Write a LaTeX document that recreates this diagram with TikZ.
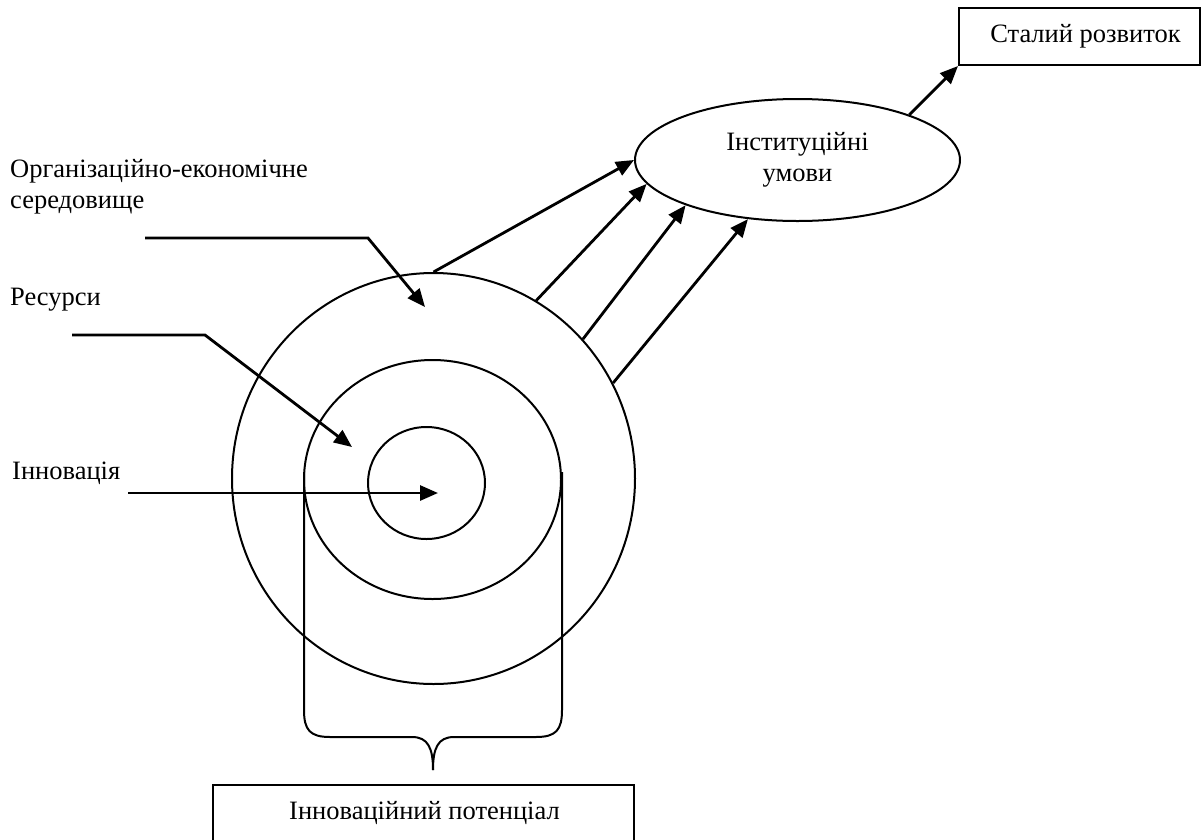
\documentclass[tikz,border=0pt]{standalone}
\usepackage{fontspec}
\setmainfont{Liberation Serif}
\usetikzlibrary{shapes.geometric,arrows.meta}
\begin{document}
\begin{tikzpicture}[x=1pt,y=-1pt,
  every node/.style={font=\fontsize{26.5}{31}\selectfont},
  shp/.style={draw, line width=2pt, inner sep=0pt},
  ring/.style={shp, ellipse},
  arr/.style={line width=2.8pt, -{Triangle[length=18pt,width=15pt]}},
  brace/.style={line width=2pt},
  lbl/.style={anchor=west, align=left, inner sep=0pt}]
\useasboundingbox (0,0) rectangle (1203,839);
\clip (0,0) rectangle (1203,839);
% rings
\node[ring, minimum width=403, minimum height=411] (outer) at (433.5,478.5) {};
\node[ring, minimum width=257, minimum height=239] (mid) at (432.5,479.5) {};
\node[ring, minimum width=117, minimum height=112] (inner) at (426.5,483) {};
% ellipse and boxes
\node[ring, minimum width=325, minimum height=122, align=center] (inst) at (797.5,160) {Інституційні\\умови};
\node[shp, rectangle, minimum width=241, minimum height=57] (sr) at (1079.5,36.5) {\hspace*{12pt}Сталий розвиток};
\node[shp, rectangle, minimum width=421, minimum height=70] (ip) at (423.5,820) {};
\node[inner sep=0pt] (iptext) at (424.5,813) {Інноваційний потенціал};
% labels
\node[lbl] (org) at (10,187) {Організаційно-економічне\\середовище};
\node[lbl] (res) at (10,300) {Ресурси};
\node[lbl] (inn) at (12,473) {Інновація};
% pointer arrows
\coordinate (o1) at (145,238);
\coordinate (o2) at (368,238);
\coordinate (o3) at (425,307);
\coordinate (r1) at (72,335);
\coordinate (r2) at (205,335);
\coordinate (r3) at (352,447);
\coordinate (i1) at (128,493);
\coordinate (i2) at (438,493);
\draw[arr] (o1) -- (o2) -- (o3);
\draw[arr] (r1) -- (r2) -- (r3);
\draw[arr] (i1) -- (i2);
% arrows to institutional conditions
\draw[arr] (outer.90) -- (inst.180);
\draw[arr] (outer.60.5) -- (inst.189);
\draw[arr] (outer.43.8) -- (inst.202);
\draw[arr] (outer.28) -- (inst.230);
\draw[arr] (inst.22) -- (sr.south west);
% brace
\coordinate (bl) at (304,472);
\coordinate (br) at (562,472);
\coordinate (btip) at (433,770);
\draw[brace] (bl) -- (304,710) .. controls (304,730) and (310,737) .. (330,737) -- (412,737)
  .. controls (428,737) and (433,748) .. (btip);
\draw[brace] (br) -- (562,710) .. controls (562,730) and (556,737) .. (536,737) -- (454,737)
  .. controls (438,737) and (433,748) .. (btip);
\end{tikzpicture}
\end{document}
